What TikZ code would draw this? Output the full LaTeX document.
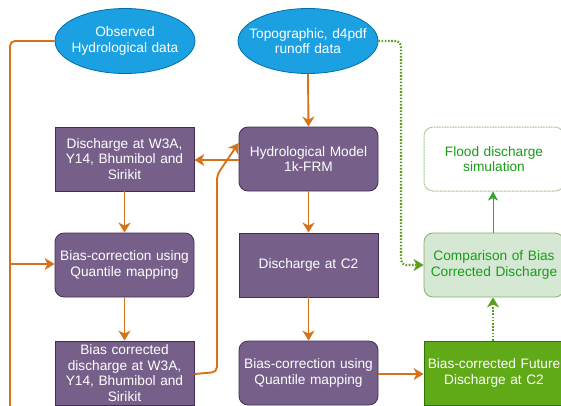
\documentclass[tikz,border=0pt]{standalone}
\usepackage{fontspec}
\setmainfont{Liberation Sans}
\usetikzlibrary{shapes.geometric,arrows.meta}
\definecolor{ellfill}{HTML}{1BA1E2}
\definecolor{elldraw}{HTML}{006EAF}
\definecolor{purfill}{HTML}{76608A}
\definecolor{purdraw}{HTML}{432D57}
\definecolor{orng}{HTML}{D6731A}
\definecolor{gfill}{HTML}{60A917}
\definecolor{gdraw}{HTML}{2D7600}
\definecolor{lgfill}{HTML}{D5E8D4}
\definecolor{lgdraw}{HTML}{82B366}
\definecolor{gtext}{HTML}{1A9C1A}
\definecolor{gline}{HTML}{5A9E1A}
\tikzset{
  x=1pt, y=-1pt,
  base/.style={font=\fontsize{13.7}{15.5}\selectfont, align=center, inner sep=0pt, text width=136pt},
  ell/.style={base, ellipse, fill=ellfill, draw=elldraw, line width=0.8pt, text=white, text width=126pt, inner xsep=-13.5pt, minimum height=65pt},
  sqbox/.style={base, rectangle, fill=purfill, draw=purdraw, line width=0.8pt, text=white, minimum width=139pt, minimum height=64pt},
  rdbox/.style={sqbox, rounded corners=9pt},
  futbox/.style={base, rectangle, fill=gfill, draw=gdraw, line width=0.8pt, text=white, minimum width=140pt, minimum height=64pt},
  cmpbox/.style={base, rectangle, rounded corners=9pt, fill=lgfill, draw=lgdraw, line width=0.8pt, text=gtext, minimum width=140pt, minimum height=64pt},
  floodbox/.style={base, rectangle, rounded corners=9pt, fill=white, draw=lgdraw!80, line width=1pt, dash pattern=on 1pt off 0.6pt, text=gtext, minimum width=140pt, minimum height=64pt},
  oarrow/.style={draw=orng, line width=1.9pt, rounded corners=5pt, -{Stealth[length=10pt,width=12pt,inset=3pt]}},
  oline/.style={draw=orng, line width=1.9pt, rounded corners=5pt},
  garrow/.style={draw=gline, line width=2.2pt, dash pattern=on 1.6pt off 1.6pt, rounded corners=5pt, -{Stealth[length=10pt,width=12pt,inset=3pt,fill=gline]}},
  thinarrow/.style={draw=gtext!70!lgdraw, line width=0.8pt, -{Stealth[length=9pt,width=10pt,inset=2.5pt]}},
}
\begin{document}
\begin{tikzpicture}
\useasboundingbox (0,0) rectangle (561,405);
\node[ell] (obs) at (125,41) {Observed\\Hydrological data};
\node[ell] (topo) at (308,41) {Topographic, d4pdf\\runoff data};
\node[sqbox] (dis) at (124.5,159) {Discharge at W3A,\\Y14, Bhumibol and\\Sirikit};
\node[rdbox] (hyd) at (308.5,159) {Hydrological Model\\1k-FRM};
\node[rdbox] (bcq1) at (124.5,265) {Bias-correction using\\Quantile mapping};
\node[sqbox] (c2) at (308.5,265) {Discharge at C2};
\node[sqbox] (bcd) at (124.5,373) {Bias corrected\\discharge at W3A,\\Y14, Bhumibol and\\Sirikit};
\node[rdbox] (bcq2) at (308.5,373) {Bias-correction using\\Quantile mapping};
\node[futbox] (fut) at (494,373) {Bias-corrected Future\\Discharge at C2};
\node[cmpbox] (cmp) at (494,265) {Comparison of Bias\\Corrected Discharge};
\node[floodbox] (flood) at (494,159) {Flood discharge\\simulation};
% coordinates
\coordinate (lt) at (10,41);
\coordinate (lb) at (10,412);
\coordinate (lbr) at (10,264);
\coordinate (mx) at (217,372);
\coordinate (gx) at (401,41);
% orange connectors
\draw[oline] (obs.west) -- (lt) -- (lb);
\draw[oarrow] (lbr) -- (lbr -| bcq1.west);
\draw[oarrow] (topo.south) -- (hyd.north);
\draw[oarrow] ([yshift=-1pt]hyd.west) -- ([yshift=-1pt]dis.east);
\draw[oarrow] (dis.south) -- (bcq1.north);
\draw[oarrow] (bcq1.south) -- (bcd.north);
\draw[oarrow] ([yshift=-1pt]bcd.east) -- (mx) -- (mx |- {(0,175)}) -- ([yshift=16pt]hyd.west);
\draw[oarrow] (hyd.south) -- (c2.north);
\draw[oarrow] (c2.south) -- (bcq2.north);
\draw[oarrow] ([yshift=-1pt]bcq2.east) -- ([yshift=-1pt]fut.west);
% green connectors
\draw[garrow] (topo.east) -- (gx) -- (gx |- cmp.west) -- (cmp.west);
\draw[garrow] ([xshift=-1pt]fut.north) -- ([xshift=-1pt]cmp.south);
\draw[thinarrow] ([xshift=-1pt]cmp.north) -- ([xshift=-1pt]flood.south);
\end{tikzpicture}
\end{document}
